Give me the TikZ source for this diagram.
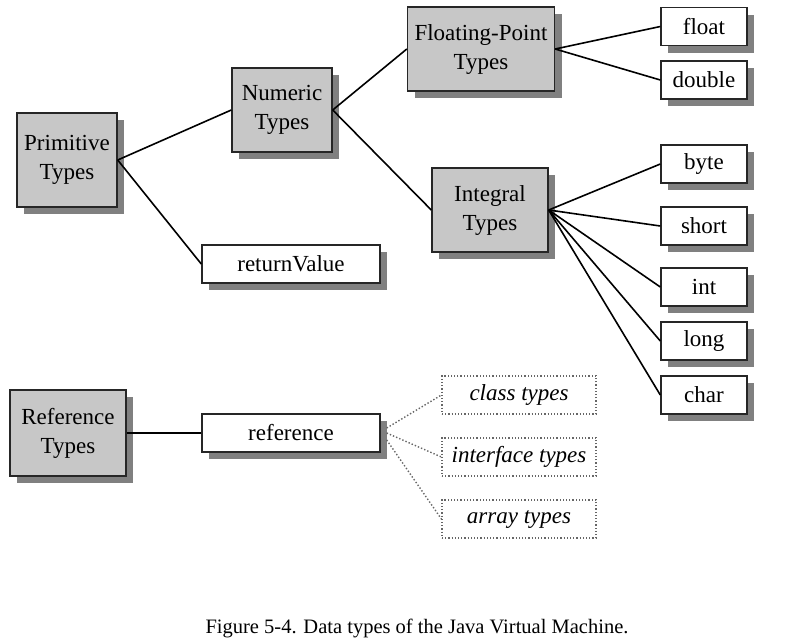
\documentclass[tikz,border=0pt]{standalone}
\usepackage{fontspec}
\setmainfont{Liberation Serif}
\usepackage{tikz}
\usetikzlibrary{positioning}
\usetikzlibrary{shadows}
\begin{document}
\begin{tikzpicture}[x=1pt,y=-1pt]
	\tikzset{
		basenode/.style={rectangle, inner sep=0pt, text centered, font=\fontsize{23}{29}\selectfont},
		typenode/.style={basenode, draw=black!85, line width=1.4pt, fill=black!22, align=center,
			drop shadow={shadow xshift=7pt, shadow yshift=-7pt, fill=black!50, opacity=1}},
		leafnode/.style={basenode, draw=black!85, line width=1.4pt, fill=white, minimum height=38pt,
			drop shadow={shadow xshift=7pt, shadow yshift=-7pt, fill=black!50, opacity=1}},
		dotnode/.style={basenode, draw=black!60, dotted, line width=1.2pt, minimum width=154pt, minimum height=38pt, font=\fontsize{23}{29}\selectfont\itshape},
		link/.style={draw=black, line width=1.6pt},
		dotlink/.style={draw=black!60, dotted, line width=1.4pt},
	}
	\useasboundingbox (0,0) rectangle (795,638);

	\node[typenode, minimum width=100pt, minimum height=94pt] (prim) at (67,160) {Primitive\\Types};
	\node[typenode, minimum width=100pt, minimum height=84pt] (num) at (282,110) {Numeric\\Types};
	\node[typenode, minimum width=147pt, minimum height=84pt] (fp) at (481,49) {Floating-Point\\Types};
	\node[typenode, minimum width=116pt, minimum height=84pt] (intg) at (490,210) {Integral\\Types};
	\node[leafnode, minimum width=178pt] (ret) at (291,264) {returnValue};

	\draw[link] (prim.east) -- (num.west);
	\draw[link] (prim.east) -- (ret.west);
	\draw[link] (num.east) -- (fp.west);
	\draw[link] (num.east) -- (intg.west);

	\node[leafnode, minimum width=86pt] (float) at (704,26.5) {float};
	\node[leafnode, minimum width=86pt] (double) at (704,80) {double};
	\node[leafnode, minimum width=86pt] (byte) at (704,164) {byte};
	\node[leafnode, minimum width=86pt] (short) at (704,226) {short};
	\node[leafnode, minimum width=86pt] (int) at (704,287) {int};
	\node[leafnode, minimum width=86pt] (long) at (704,341) {long};
	\node[leafnode, minimum width=86pt] (char) at (704,395) {char};

	\draw[link] (fp.east) -- (float.west);
	\draw[link] (fp.east) -- (double.west);
	\draw[link] (intg.east) -- (byte.west);
	\draw[link] (intg.east) -- (short.west);
	\draw[link] (intg.east) -- (int.west);
	\draw[link] (intg.east) -- (long.west);
	\draw[link] (intg.east) -- (char.west);

	\node[typenode, minimum width=116pt, minimum height=86pt] (refty) at (68,433) {Reference\\Types};
	\node[leafnode, minimum width=178pt] (ref) at (291,433) {reference};

	\node[dotnode] (cls) at (519,395) {class types};
	\node[dotnode] (iface) at (519,457) {interface types};
	\node[dotnode] (arr) at (519,519) {array types};

	\draw[link] (refty.east) -- (ref.west);
	\draw[dotlink] ([xshift=6pt,yshift=5pt]ref.east) -- (cls.west);
	\draw[dotlink] ([xshift=6pt]ref.east) -- (iface.west);
	\draw[dotlink] ([xshift=6pt,yshift=-7pt]ref.east) -- (arr.west);

	\node[font=\fontsize{20.5}{24}\selectfont] (caption) at (417,628) {Figure 5-4. Data types of the Java Virtual Machine.};
\end{tikzpicture}
\end{document}
